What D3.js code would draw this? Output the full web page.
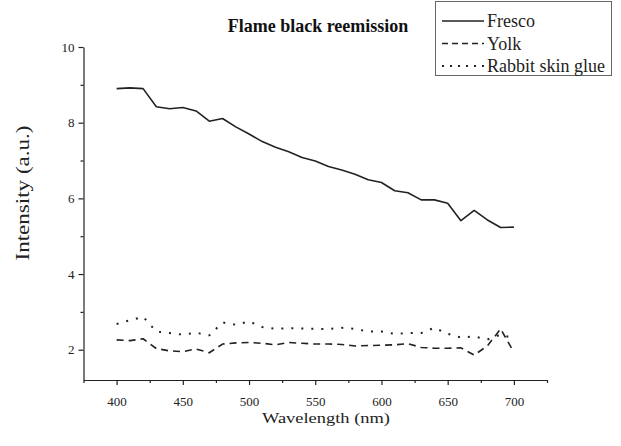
<!DOCTYPE html>
<html>
<head>
<meta charset="utf-8">
<script src="https://cdn.jsdelivr.net/npm/d3@7"></script>
<style>
  html, body { margin: 0; padding: 0; background: #fff; }
  svg { display: block; }
  svg text { font-family: "Liberation Serif", "Times New Roman", serif; }
</style>
</head>
<body>
<svg id="chart" width="621" height="446"></svg>
<script>
const wavelengths = [400,410,420,430,440,450,460,470,480,490,500,510,520,530,540,550,560,570,580,590,600,610,620,630,640,650,660,670,680,690,700];
const fresco = [8.90,8.92,8.90,8.42,8.37,8.40,8.31,8.04,8.11,7.89,7.70,7.50,7.35,7.23,7.08,6.99,6.84,6.75,6.64,6.49,6.42,6.20,6.15,5.96,5.96,5.87,5.41,5.68,5.43,5.23,5.24];
const yolk = [2.26,2.24,2.29,2.03,1.97,1.95,2.02,1.92,2.15,2.18,2.19,2.17,2.13,2.19,2.17,2.15,2.15,2.14,2.10,2.11,2.12,2.13,2.16,2.06,2.04,2.04,2.05,1.86,2.10,2.55,1.93];
const glue = [2.68,2.78,2.87,2.48,2.44,2.40,2.45,2.38,2.72,2.66,2.75,2.60,2.55,2.57,2.56,2.55,2.55,2.58,2.55,2.48,2.48,2.42,2.44,2.44,2.58,2.42,2.32,2.35,2.27,2.40,2.30];
const seriesNames = ["Fresco","Yolk","Rabbit skin glue"];
const xMajorTicks = [400,450,500,550,600,650,700];
const xMinorTicks = [375,425,475,525,575,625,675,725];
const yMajorTicks = [2,4,6,8,10];
const yMinorTicks = [3,5,7,9];

const ink = "#222";
const serif = "'Liberation Serif', 'Times New Roman', serif";
const svg = d3.select("#chart");
const x = d3.scaleLinear().domain([375,725]).range([83.5,547]);
const y = d3.scaleLinear().domain([1.2,10]).range([380,47]);

// Axes
svg.append("g").attr("transform","translate(0,380)")
  .call(d3.axisBottom(x).tickValues(xMajorTicks).tickSize(5).tickPadding(12).tickSizeOuter(0));
svg.append("g").attr("transform","translate(0,380)")
  .call(d3.axisBottom(x).tickValues(xMinorTicks).tickSize(3).tickFormat("").tickSizeOuter(0))
  .select(".domain").remove();
svg.append("g").attr("transform","translate(83.5,0)")
  .call(d3.axisLeft(y).tickValues(yMajorTicks).tickSize(5).tickPadding(4).tickSizeOuter(0));
svg.append("g").attr("transform","translate(83.5,0)")
  .call(d3.axisLeft(y).tickValues(yMinorTicks).tickSize(3).tickFormat("").tickSizeOuter(0))
  .select(".domain").remove();

svg.selectAll("g").attr("font-family", serif);
svg.selectAll(".tick line, .domain").attr("stroke", ink).attr("stroke-width", 1.2);
svg.selectAll(".tick text").style("font-family", serif).attr("font-size", 13).attr("fill", ink);

// Lines
const series = [
  {name: seriesNames[0], values: fresco, dash: null, width: 1.6},
  {name: seriesNames[1], values: yolk, dash: "7,5", width: 1.6},
  {name: seriesNames[2], values: glue, dash: "2,8", width: 2}
];
const line = d3.line().x((d,i) => x(wavelengths[i])).y(d => y(d));
series.forEach(s => {
  svg.append("path").datum(s.values)
    .attr("d", line)
    .attr("fill","none")
    .attr("stroke", ink)
    .attr("stroke-width", s.width)
    .attr("stroke-linejoin","round")
    .attr("stroke-dasharray", s.dash);
});

// Titles
svg.append("text").attr("x", 318).attr("y", 32).attr("text-anchor","middle")
  .attr("font-weight","bold").attr("font-size", 18).attr("fill","#111")
  .text("Flame black reemission");
svg.append("text").attr("x", 326).attr("y", 423).attr("text-anchor","middle")
  .attr("font-size", 15).attr("fill", ink)
  .attr("textLength", 128).attr("lengthAdjust","spacingAndGlyphs")
  .text("Wavelength (nm)");
svg.append("text").attr("transform","translate(29,193) rotate(-90)").attr("text-anchor","middle")
  .attr("font-size", 18).attr("fill", ink)
  .attr("textLength", 135).attr("lengthAdjust","spacingAndGlyphs")
  .text("Intensity (a.u.)");

// Legend
const lg = svg.append("g");
lg.append("rect").attr("x", 435.5).attr("y", 1.5).attr("width", 176).attr("height", 74)
  .attr("fill","#fff").attr("stroke","#666").attr("stroke-width", 1);
const legendDash = [null, "6,4", "2,6"];
series.forEach((s,i) => {
  const by = 27 + i*22.5;
  lg.append("line").attr("x1", 442).attr("x2", 484).attr("y1", by-6).attr("y2", by-6)
    .attr("stroke", ink).attr("stroke-width", s.width).attr("stroke-dasharray", legendDash[i]);
  lg.append("text").attr("x", 487).attr("y", by).attr("font-size", 18).attr("fill", ink).text(s.name);
});
</script>
</body>
</html>
